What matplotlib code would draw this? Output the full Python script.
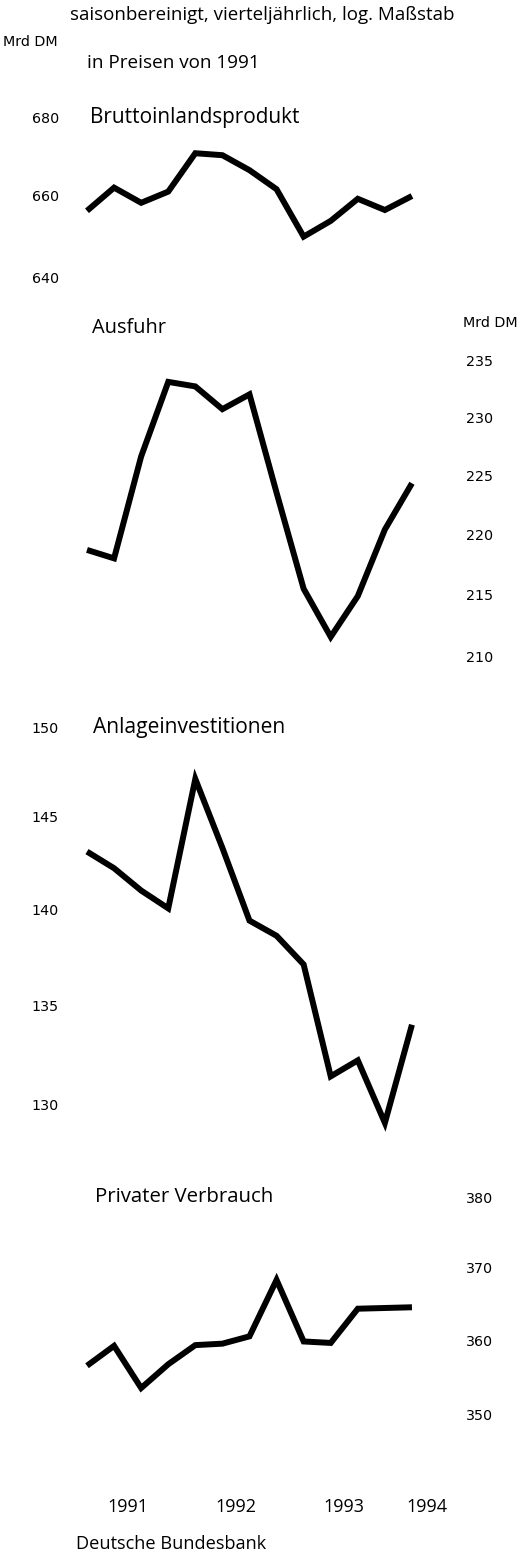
import numpy as np
import matplotlib
matplotlib.use("Agg")
import matplotlib.pyplot as plt
import matplotlib.transforms as mtransforms

# ---- data (Mrd DM, seasonally adjusted, quarterly, 1991 Q1 .. 1994 Q1) ----
quarters = list(range(13))
bip = [656.3, 662.1, 658.3, 661.1, 670.8, 670.3, 666.5, 661.7, 649.9, 653.8, 659.3, 656.5, 660.0]
ausfuhr = [218.7, 218.0, 226.6, 233.1, 232.7, 230.7, 232.0, 223.5, 215.5, 211.6, 214.9, 220.4, 224.3]
anlage = [143.1, 142.2, 141.0, 140.05, 147.1, 143.3, 139.4, 138.6, 137.1, 131.4, 132.2, 129.1, 134.0]
privat = [356.5, 359.2, 353.5, 356.7, 359.3, 359.5, 360.5, 368.3, 359.8, 359.6, 364.3, 364.4, 364.5]

bip_ticks = [640, 660, 680]
aus_ticks = [210, 215, 220, 225, 230, 235]
anl_ticks = [130, 135, 140, 145, 150]
pv_ticks = [350, 360, 370, 380]

year_labels = ["1991", "1992", "1993", "1994"]
year_pos = [1.5, 5.5, 9.5, 12.55]

titles = ["Bruttoinlandsprodukt", "Ausfuhr", "Anlageinvestitionen", "Privater Verbrauch"]

# ---- layout ----
W, H = 521, 1552
DPI = 100
fig = plt.figure(figsize=(W / DPI, H / DPI), dpi=DPI)
fig.patch.set_facecolor("white")

S = 2635.0  # pixels per natural-log unit (common log scale)
X0_PX, DX_PX = 87.0, 27.08  # pixel of first quarter, pixels per quarter
AX_L_PX, AX_R_PX = 70.0, 455.0
xlim = ((AX_L_PX - X0_PX) / DX_PX, (AX_R_PX - X0_PX) / DX_PX)

MAIN = ["Open Sans", "DejaVu Sans"]
NUM = ["DejaVu Sans"]
NUMSIZE = 10.3

# panel specs: data, ticks, anchor value, anchor pixel y, lo, hi, tick side
panels = [
    (bip, bip_ticks, 660, 196.0, 636, 684, "left"),
    (ausfuhr, aus_ticks, 220, 534.3, 208, 238, "right"),
    (anlage, anl_ticks, 140, 909.3, 127, 151, "left"),
    (privat, pv_ticks, 360, 1340.0, 346, 382, "right"),
]

axes = []
for data, ticks, v0, y0, lo, hi, side in panels:
    top_px = y0 - S * np.log(hi / v0)
    bot_px = y0 + S * np.log(v0 / lo)
    ax = fig.add_axes([AX_L_PX / W, 1 - bot_px / H, (AX_R_PX - AX_L_PX) / W, (bot_px - top_px) / H])
    ax.set_yscale("log")
    ax.set_ylim(lo, hi)
    ax.set_xlim(*xlim)
    ax.plot(quarters, data, color="black", lw=4.3, solid_joinstyle="miter", solid_capstyle="butt")
    ax.set_yticks(ticks)
    ax.set_yticklabels([str(t) for t in ticks], family=NUM, fontsize=NUMSIZE)
    ax.yaxis.set_minor_locator(matplotlib.ticker.NullLocator())
    ax.tick_params(axis="y", length=0, pad=8)
    if side == "right":
        ax.yaxis.tick_right()
    ax.set_xticks([])
    for sp in ax.spines.values():
        sp.set_visible(False)
    ax.patch.set_alpha(0)
    axes.append(ax)

renderer = fig.canvas.get_renderer()


def fit_text(x0, x1, y, s, family=MAIN, size=12.0):
    """Place text with left edge at x0 px and scale its size so the right edge lands at x1 px."""
    t = fig.text(x0 / W, 1 - y / H, s, family=family, fontsize=size, va="center", ha="left")
    w = t.get_window_extent(renderer).width
    t.set_fontsize(size * (x1 - x0) / w)
    return t


def ftext(x, y, s, **kw):
    fig.text(x / W, 1 - y / H, s, va="center", **kw)


fit_text(70, 452, 15, "saisonbereinigt, vierteljährlich, log. Maßstab")
ftext(3, 42, "Mrd DM", family=NUM, fontsize=NUMSIZE, ha="left")
fit_text(87, 258, 63, "in Preisen von 1991")
fit_text(90, 298, 117, titles[0])
fit_text(92, 166, 328, titles[1])
ftext(518, 323, "Mrd DM", family=NUM, fontsize=NUMSIZE, ha="right")
fit_text(93, 285, 727, titles[2])
fit_text(95, 272, 1197, titles[3])
fit_text(76, 265, 1544, "Deutsche Bundesbank")

trans = mtransforms.blended_transform_factory(axes[3].transData, fig.transFigure)
for lab, xp in zip(year_labels, year_pos):
    axes[3].text(xp, 1 - 1507 / H, lab, transform=trans, family=MAIN, fontsize=13.0,
                 ha="center", va="center", clip_on=False)

fig.savefig("out.png", dpi=DPI, facecolor="white")
